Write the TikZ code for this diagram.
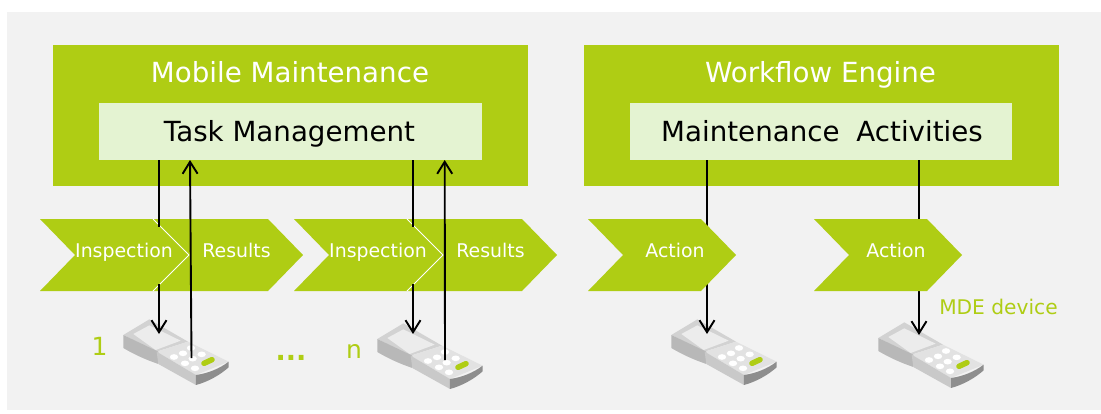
\documentclass[tikz,border=0pt]{standalone}
\usepackage{fontspec}
\setmainfont{DejaVu Sans}
\usetikzlibrary{arrows.meta}
\definecolor{brand}{HTML}{AFCD14}
\definecolor{lightbrand}{HTML}{E4F3D2}
\definecolor{panel}{HTML}{F2F2F2}
\definecolor{devtop}{HTML}{D2D2D2}
\definecolor{devkeys}{HTML}{E2E2E2}
\definecolor{devscreen}{HTML}{ECECEC}
\definecolor{devside}{HTML}{B8B8B8}
\definecolor{devrim}{HTML}{C9C9C9}
\definecolor{devfront}{HTML}{8E8E8E}
\tikzset{
  outerbox/.style={fill=brand,draw=none,inner sep=0pt,anchor=north west,minimum width=475pt,minimum height=141pt},
  innerbox/.style={fill=lightbrand,draw=none,inner sep=0pt,anchor=north west,minimum height=57pt},
  titletext/.style={text=white,inner sep=0pt,anchor=base,font=\fontsize{27.7}{28}\selectfont},
  innertext/.style={text=black,inner sep=0pt,anchor=base,font=\fontsize{27.7}{28}\selectfont},
  chevlabel/.style={text=white,inner sep=0pt,anchor=base,font=\fontsize{18.9}{19}\selectfont},
  notetext/.style={text=brand,inner sep=0pt,anchor=base,font=\fontsize{20.2}{21}\selectfont},
  bignote/.style={notetext,font=\fontsize{25}{25}\selectfont},
  conn/.style={draw=black,line width=1.9pt},
  arrowconn/.style={conn,-{Straight Barb[length=12pt,width=15pt,line width=1.9pt]}},
  device/.pic={
    \begin{scope}[x=0.3333pt,y=-0.3333pt]
      \fill[devtop] (40,75) -- (118,28) -- (234,95) -- (140,125) -- cycle;
      \fill[devkeys] (140,125) -- (234,95) -- (356,155) -- (258,195) -- cycle;
      \fill[devside] (40,75) -- (40,114) .. controls (75,135) and (110,150) .. (145,162) -- (145,125) -- cycle;
      \fill[devrim] (140,125) -- (145,162) -- (258,225) -- (258,195) -- cycle;
      \fill[devfront] (258,195) .. controls (295,190) and (330,175) .. (356,155) -- (356,172) .. controls (330,195) and (295,215) .. (258,225) -- cycle;
      \fill[devscreen] (70,72) -- (118,46) -- (212,92) -- (137,120) -- cycle;
      \foreach \kx/\ky in {192/141,219/130,243/114,275/133,225/160,248/146,255/175}
        \fill[white] (\kx,\ky) ellipse [x radius=12.5,y radius=8.5];
      \draw[brand,line width=5.5pt,line cap=round] (282,160) -- (306,149);
    \end{scope}
  }
}
\newcommand{\chevron}[4]{% left, notch, shoulder, tip
  \fill[brand] (#1,219) -- (#3,219) -- (#4,255) -- (#3,291) -- (#1,291) -- (#2,255) -- cycle;}
\begin{document}
\begin{tikzpicture}[x=1pt,y=-1pt]
\useasboundingbox (0,0) rectangle (1101,413);
\fill[white] (0,0) rectangle (1101,413);
\fill[panel] (7,12) rectangle (1101,410);

% boxes
\node[outerbox] (mm) at (53,45) {};
\node[outerbox] (wf) at (584,45) {};
\node[titletext] (mmt) at (290,82) {Mobile Maintenance};
\node[titletext] (wft) at (820.5,82) {Workflow Engine};
\node[innerbox,minimum width=383pt] (tm) at (99,103) {};
\node[innerbox,minimum width=382pt] (ma) at (630,103) {};
\node[innertext] (tmt) at (289.5,141) {Task Management};
\node[innertext] (mat) at (822,141) {Maintenance\hspace{8pt} Activities};

% devices
\pic (dva) at (110,310) {device};
\pic (dvb) at (364,314) {device};
\pic (dvc) at (658,310) {device};
\pic (dvd) at (865,313) {device};

% connector end points
\coordinate (a1) at (159,227); \coordinate (a2) at (159,284); \coordinate (a3) at (159,334);
\coordinate (b1) at (191.5,358); \coordinate (b2) at (190,160);
\coordinate (c1) at (413,227); \coordinate (c2) at (413,284); \coordinate (c3) at (413,334);
\coordinate (d1) at (445,360); \coordinate (d2) at (444.7,160);
\coordinate (e1) at (707,160); \coordinate (e2) at (707,334);
\coordinate (f1) at (919,160); \coordinate (f2) at (919,335);

% connectors under the action shapes
\draw[arrowconn] (e1) -- (e2);
\draw[arrowconn] (f1) -- (f2);

% process shapes
\chevron{153}{189}{268}{303}
\chevron{40}{75}{153}{189}
\chevron{407}{443}{522}{557}
\chevron{294}{329}{407}{443}
\chevron{588}{623}{701}{736}
\chevron{814}{849}{927}{962}
\draw[white,line width=0.9pt] (153,219) -- (189,255) -- (153,291);
\draw[white,line width=0.9pt] (407,219) -- (443,255) -- (407,291);
\draw[conn] (a1 |- tm.south) -- (a1);
\draw[conn] (c1 |- tm.south) -- (c1);

\node[chevlabel] (l1) at (124,257) {Inspection};
\node[chevlabel] (l2) at (236.5,257) {Results};
\node[chevlabel] (l3) at (378,257) {Inspection};
\node[chevlabel] (l4) at (490.5,257) {Results};
\node[chevlabel] (l5) at (675,257) {Action};
\node[chevlabel] (l6) at (896,257) {Action};

% remaining connectors
\draw[arrowconn] (a2) -- (a3);
\draw[arrowconn] (c2) -- (c3);
\draw[arrowconn] (b1) -- (b2);
\draw[arrowconn] (d1) -- (d2);

% notes
\node[bignote] (n1) at (99.5,355) {1};
\node[notetext,font=\fontsize{27}{27}\selectfont\bfseries] (dots) at (291,360) {...};
\node[bignote] (n2) at (354,358) {n};
\node[notetext] (mde) at (998.5,314) {MDE device};
\end{tikzpicture}
\end{document}
